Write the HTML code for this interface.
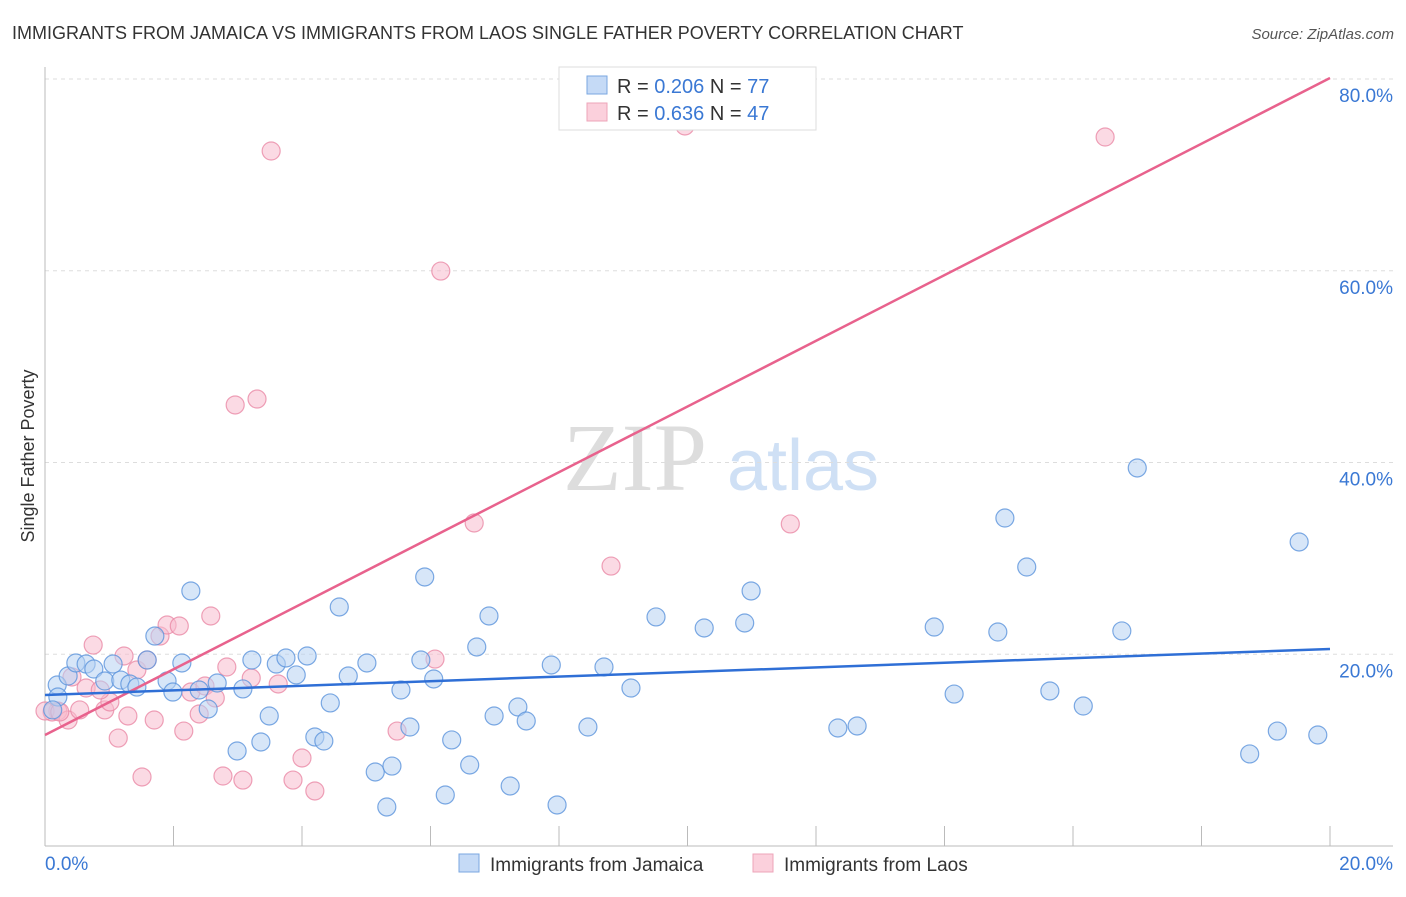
<!DOCTYPE html>
<html><head><meta charset="utf-8"><style>
body{margin:0;background:#fff;font-family:"Liberation Sans",sans-serif;}
svg text{font-family:"Liberation Sans",sans-serif;}
</style></head><body>
<svg width="1406" height="892" xmlns="http://www.w3.org/2000/svg">
<text x="12" y="39" font-size="18" fill="#333">IMMIGRANTS FROM JAMAICA VS IMMIGRANTS FROM LAOS SINGLE FATHER POVERTY CORRELATION CHART</text>
<text x="1394" y="39" font-size="15" fill="#555" font-style="italic" text-anchor="end">Source: ZipAtlas.com</text>
<g>
<text x="635" y="490" font-size="96" fill="#ddd" font-family="Liberation Serif" text-anchor="middle" style="font-family:'Liberation Serif',serif">ZIP</text>
<text x="803" y="490" font-size="72" fill="#cfe0f5" text-anchor="middle">atlas</text>
</g>
<g id="grid"></g>
<g id="axes"></g>
<g id="marks"></g>
<text x="34" y="456" font-size="18" fill="#333" text-anchor="middle" transform="rotate(-90 34 456)">Single Father Poverty</text>
<g>
<rect x="559" y="67" width="257" height="63" fill="#fff" stroke="#ddd"/>
<rect x="587" y="76" width="20" height="18" fill="#c5daf6" stroke="#7aa7e0"/>
<rect x="587" y="103" width="20" height="18" fill="#fbd0dc" stroke="#eea4b9"/>
<text x="617" y="93" font-size="20" fill="#333">R = <tspan fill="#3a78d4">0.206</tspan>   N = <tspan fill="#3a78d4">77</tspan></text>
<text x="617" y="120" font-size="20" fill="#333">R = <tspan fill="#3a78d4">0.636</tspan>   N = <tspan fill="#3a78d4">47</tspan></text>
</g>
<g>
<rect x="459" y="854" width="20" height="18" fill="#c5daf6" stroke="#7aa7e0"/>
<text x="490" y="871" font-size="19" fill="#333">Immigrants from Jamaica</text>
<rect x="753" y="854" width="20" height="18" fill="#fbd0dc" stroke="#eea4b9"/>
<text x="784" y="871" font-size="19" fill="#333">Immigrants from Laos</text>
</g>
</svg>
<script>
const yTicks=[20,40,60,80];
const yTickLabels=["20.0%","40.0%","60.0%","80.0%"];
const xTicks=[0,2,4,6,8,10,12,14,16,18,20];
const xTickLabels=["0.0%","20.0%"];
const jamaicaX=[0.19,0.20,0.36,0.48,0.64,0.76,0.93,1.06,1.18,1.32,1.43,1.59,1.71,1.90,1.99,2.13,2.27,2.40,2.54,2.68,2.99,3.08,3.22,3.36,3.49,3.60,3.75,3.91,4.08,4.20,4.34,4.44,4.58,4.72,5.01,5.14,5.32,5.40,5.54,5.68,5.91,5.85,6.05,6.23,6.33,6.61,6.72,6.91,6.99,7.24,7.36,7.49,7.88,7.97,8.45,8.70,9.12,9.51,10.26,10.89,10.99,12.34,12.64,13.84,14.15,14.83,14.94,15.28,15.64,16.16,16.76,17.00,18.75,19.18,19.52,19.81,0.12];
const jamaicaY=[16.79,15.54,17.73,19.09,18.98,18.46,17.21,18.98,17.31,16.90,16.58,19.40,21.90,17.21,16.06,19.09,26.60,16.27,14.29,17.00,9.91,16.38,19.40,10.85,13.56,18.98,19.61,17.84,19.82,11.37,10.95,14.92,24.93,17.73,19.09,7.72,4.07,8.34,16.27,12.41,28.06,19.40,17.42,5.32,11.06,8.45,20.76,23.99,13.56,6.26,14.50,13.04,18.88,4.28,12.41,18.67,16.48,23.89,22.74,23.26,26.60,12.31,12.52,22.84,15.85,22.32,34.21,29.10,16.17,14.60,22.43,39.43,9.60,11.99,31.71,11.58,14.19];
const laosX=[0.11,0.20,0.36,0.42,0.54,0.64,0.75,0.93,1.01,1.14,1.23,1.29,1.43,1.51,1.59,1.70,1.79,1.90,2.09,2.16,2.27,2.40,2.49,2.58,2.65,2.77,2.83,2.96,3.08,3.21,3.30,3.52,3.63,3.86,4.00,4.20,5.48,6.07,6.16,6.68,8.81,9.96,11.60,16.50,0.0,0.23,0.86];
const laosY=[13.98,14.08,13.14,17.63,14.19,16.48,20.96,14.19,15.02,11.26,19.82,13.56,18.36,7.20,19.40,13.14,21.90,23.05,22.95,11.99,16.06,13.77,16.69,23.99,15.44,7.30,18.67,46.00,6.88,17.52,46.62,72.49,16.90,6.88,9.18,5.74,11.99,19.50,59.97,33.69,29.20,75.10,33.59,73.95,14.08,13.98,16.27];
const jamaicaTrend=[15.75,20.55];
const laosTrend=[11.58,80.1];
const NS='http://www.w3.org/2000/svg';
const X0=45,X1=1330,Y0=846,YS=767/80;
function sx(v){return X0+(v/20)*(X1-X0);}
function sy(v){return Y0-v*YS;}
function mk(tag,attrs,parent){const e=document.createElementNS(NS,tag);for(const k in attrs)e.setAttribute(k,attrs[k]);parent.appendChild(e);return e;}
const grid=document.getElementById('grid'),axes=document.getElementById('axes'),marks=document.getElementById('marks');
yTicks.forEach((t,i)=>{
  const l=mk('line',{x1:X0,x2:1393,y1:sy(t),y2:sy(t),stroke:'#ddd','stroke-dasharray':'4,4'},grid);
  
  
  const tx=mk('text',{x:1393,y:sy(t)+23,'font-size':19,fill:'#3a78d4','text-anchor':'end'},axes);
  tx.textContent=yTickLabels[i];
  
  
});
const yax=mk('line',{x1:X0,x2:X0,y1:67,y2:Y0,stroke:'#bbb'},axes);


const xax=mk('line',{x1:X0,x2:1393,y1:Y0,y2:Y0,stroke:'#bbb'},axes);


xTicks.forEach(t=>{
  if(t===0)return;
  const l=mk('line',{x1:sx(t),x2:sx(t),y1:826,y2:Y0,stroke:'#bbb'},axes);
  
  
});
[[0,'start',45],[20,'end',1393]].forEach((d,i)=>{
  const tx=mk('text',{x:d[2],y:870,'font-size':19,fill:'#3a78d4','text-anchor':d[1]},axes);
  tx.textContent=xTickLabels[i];
  
  
});
function pts(xs,ys,fill,stroke,name){
  xs.forEach((x,i)=>{
    const c=mk('circle',{cx:sx(x),cy:sy(ys[i]),r:9,fill:fill,'fill-opacity':0.55,stroke:stroke,'stroke-opacity':0.8,'stroke-width':1.2},marks);
    
    
  });
}
pts(laosX,laosY,'#f7bccd','#ea8aa6','point-laos');
pts(jamaicaX,jamaicaY,'#b7d1f3','#5b93dc','point-jamaica');
const t1=mk('line',{x1:sx(0),y1:sy(laosTrend[0]),x2:sx(20),y2:sy(laosTrend[1]),stroke:'#e8628d','stroke-width':2.5},marks);


const t2=mk('line',{x1:sx(0),y1:sy(jamaicaTrend[0]),x2:sx(20),y2:sy(jamaicaTrend[1]),stroke:'#2f6fd6','stroke-width':2.5},marks);


</script>
</body></html>
